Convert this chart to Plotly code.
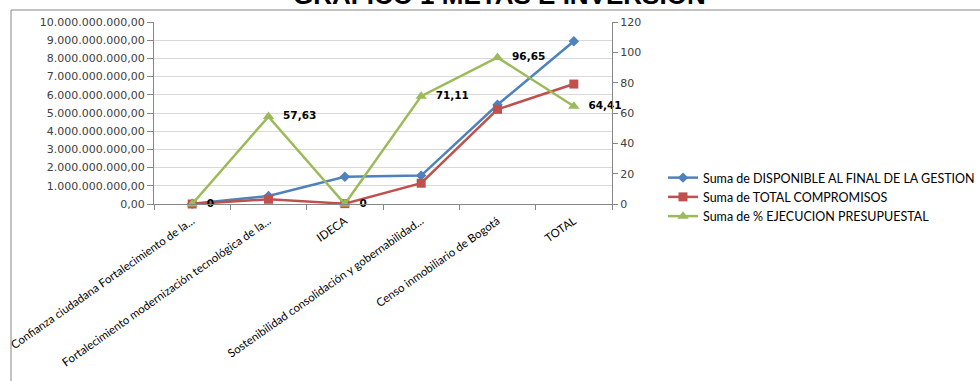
import plotly.graph_objects as go

categories = [
    "Confianza ciudadana Fortalecimiento de la...",
    "Fortalecimiento modernización tecnológica de la...",
    "IDECA",
    "Sostenibilidad consolidación y gobernabilidad...",
    "Censo inmobiliario de Bogotá",
    "TOTAL",
]
disponible = [0.01e9, 0.44e9, 1.50e9, 1.56e9, 5.45e9, 8.94e9]
compromisos = [0.0, 0.26e9, 0.02e9, 1.14e9, 5.20e9, 6.59e9]
ejecucion = [0, 57.63, 0, 71.11, 96.65, 64.41]

names = [
    "Suma de DISPONIBLE AL FINAL DE LA GESTION",
    "Suma de TOTAL COMPROMISOS",
    "Suma de % EJECUCION PRESUPUESTAL",
]
colors = ["#4F81BD", "#C0504D", "#9BBB59"]


def fmt(v):
    s = ("%.2f" % v).rstrip("0").rstrip(".")
    return "\u00a0\u00a0" + s.replace(".", ",")


labels = [fmt(v) for v in ejecucion]

fig = go.Figure()
fig.add_trace(go.Scatter(
    x=categories, y=disponible, name=names[0], mode="lines+markers",
    line=dict(color=colors[0], width=2.5),
    marker=dict(symbol="diamond", size=8, color=colors[0]),
    cliponaxis=False,
))
fig.add_trace(go.Scatter(
    x=categories, y=compromisos, name=names[1], mode="lines+markers",
    line=dict(color=colors[1], width=2.5),
    marker=dict(symbol="square", size=9, color=colors[1]),
    cliponaxis=False,
))
fig.add_trace(go.Scatter(
    x=categories, y=ejecucion, name=names[2], mode="lines+markers+text",
    line=dict(color=colors[2], width=2.5),
    marker=dict(symbol="triangle-up", size=10, color=colors[2]),
    text=labels, textposition="middle right",
    textfont=dict(family="DejaVu Sans", size=10.5, color="#000000", weight="bold"),
    yaxis="y2", cliponaxis=False,
))

L, R, T, B = 154, 368, 22, 177
W, H = 980, 381
pw = W - L - R
ph = H - T - B


def px(X):
    return (X - L) / pw


def py(Y):
    return (H - B - Y) / ph


fig.update_layout(
    width=W, height=H,
    margin=dict(l=L, r=R, t=T, b=B, pad=0, autoexpand=False),
    paper_bgcolor="white", plot_bgcolor="white",
    separators=",.",
    font=dict(family="DejaVu Sans", size=11, color="#404040"),
    showlegend=True,
    legend=dict(
        x=px(663), y=py(163), xanchor="left", yanchor="top",
        font=dict(family="Lato", size=12.5, color="#000000"),
        itemwidth=30, tracegroupgap=0, bgcolor="rgba(0,0,0,0)",
    ),
    xaxis=dict(
        type="category", range=[-0.5, 5.5],
        tickangle=-35, tickson="boundaries", ticks="outside", ticklen=5,
        tickcolor="#868686", showline=True, linecolor="#868686", linewidth=1,
        showgrid=False, tickfont=dict(family="Lato", size=11.5, color="#000000"),
        ticklabelstandoff=5,
        automargin=False,
    ),
    yaxis=dict(
        range=[0, 1e10], dtick=1e9, tickformat=",.2f",
        ticks="outside", ticklen=6, tickcolor="#868686",
        showline=True, linecolor="#868686", linewidth=1,
        showgrid=True, gridcolor="#D9D9D9", gridwidth=1, zeroline=False,
        tickfont=dict(family="DejaVu Sans", size=11, color="#404040"),
        automargin=False,
    ),
    yaxis2=dict(
        overlaying="y", side="right", range=[0, 120], dtick=20,
        ticks="outside", ticklen=5, tickcolor="#868686",
        showline=True, linecolor="#868686", linewidth=1,
        showgrid=False, zeroline=False,
        tickfont=dict(family="DejaVu Sans", size=11, color="#404040"),
        automargin=False,
    ),
)

fig.add_shape(
    type="rect", xref="paper", yref="paper",
    x0=px(11), x1=px(990), y0=py(10), y1=py(395),
    line=dict(color="#868686", width=1), fillcolor="rgba(0,0,0,0)", layer="below",
)

fig.add_annotation(
    text="<b>GRAFICO 1 METAS E INVERSION</b>",
    xref="paper", yref="paper", x=px(499), y=py(11), xanchor="center", yanchor="bottom",
    showarrow=False, font=dict(family="Liberation Sans", size=26, color="#000000"),
    borderpad=0,
)

fig.write_html("out.html")
